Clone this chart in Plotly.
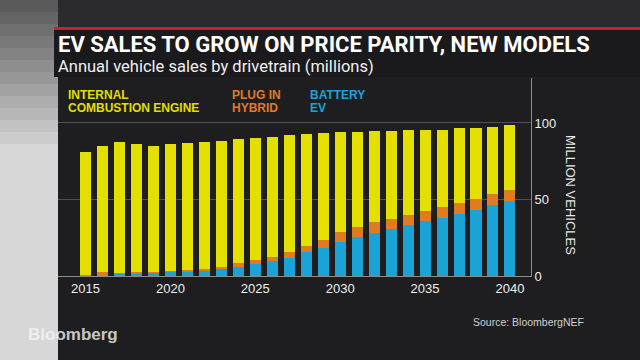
import plotly.graph_objects as go

years = list(range(2015, 2041))
ice = [80.3, 82.6, 85.4, 83.4, 81.9, 82.7, 82.7, 83.4, 82.4, 81.0, 79.7, 78.0, 76.4,
       73.2, 69.9, 65.4, 61.9, 59.5, 57.3, 55.1, 52.9, 50.7, 48.8, 46.8, 44.2, 42.5]
phev = [0.2, 2.3, 0.3, 1.1, 0.5, 0.5, 0.9, 0.9, 1.7, 2.6, 2.6, 3.1, 3.9,
        3.7, 5.3, 6.2, 6.7, 7.2, 7.0, 7.0, 6.8, 7.2, 7.0, 6.8, 7.2, 7.2]
bev = [0.3, 0.3, 1.7, 1.8, 2.4, 2.9, 3.1, 3.5, 4.4, 5.7, 7.9, 9.5, 11.6,
       15.7, 18.3, 22.3, 25.3, 27.9, 30.5, 33.1, 35.9, 37.7, 40.7, 43.3, 46.2, 49.0]
x_ticks = [2015, 2020, 2025, 2030, 2035, 2040]
y_ticks = [0, 50, 100]

YELLOW = "#e3e000"
ORANGE = "#e07b22"
BLUE = "#19a3d6"
BG = "#1e1e20"

W, H = 640, 360
L, R, T, B = 58, 531, 78, 276


def px(x):
    return (x - L) / (R - L)


def py(y):
    return (B - y) / (B - T)


fig = go.Figure()
for name, vals, col in [("Battery EV", bev, BLUE), ("Plug in hybrid", phev, ORANGE),
                        ("Internal combustion engine", ice, YELLOW)]:
    fig.add_trace(go.Bar(x=years, y=vals, name=name, marker=dict(color=col, line=dict(width=0))))

shapes = []
# left light strip (vertical gradient approximated by bands)
n = 30
for i in range(n):
    y0 = H * i / n
    y1 = H * (i + 1) / n
    t = min(1.0, (i + 0.5) / n * 2.4)
    c0, c1 = 85, 215
    v = int(c0 + (c1 - c0) * t)
    shapes.append(dict(type="rect", xref="paper", yref="paper", x0=px(0), x1=px(L),
                       y0=py(y1), y1=py(y0), fillcolor=f"rgb({v},{v},{v})",
                       line=dict(width=0), layer="below"))
# top dark region
shapes.append(dict(type="rect", xref="paper", yref="paper", x0=px(L), x1=px(W),
                   y0=py(27), y1=py(0), fillcolor="#2b2b2d", line=dict(width=0), layer="below"))
# red rule
shapes.append(dict(type="rect", xref="paper", yref="paper", x0=px(54), x1=px(W),
                   y0=py(30), y1=py(27), fillcolor="#c9202b", line=dict(width=0), layer="below"))
# title band
shapes.append(dict(type="rect", xref="paper", yref="paper", x0=px(54), x1=px(W),
                   y0=py(77), y1=py(30), fillcolor="#1a1a1c", line=dict(width=0), layer="below"))

ann = []
FONT = "Roboto, Liberation Sans, Arial, sans-serif"
ann.append(dict(text="<b>EV SALES TO GROW ON PRICE PARITY, NEW MODELS</b>", x=px(57), y=py(44),
                xref="paper", yref="paper", xanchor="left", yanchor="middle", showarrow=False,
                borderpad=0, font=dict(family=FONT, size=22, color="white")))
ann.append(dict(text="Annual vehicle sales by drivetrain (millions)", x=px(57), y=py(66.5),
                xref="paper", yref="paper", xanchor="left", yanchor="middle", showarrow=False,
                borderpad=0, font=dict(family=FONT, size=16.5, color="#f0f0f0")))
legend_items = [
    ("INTERNAL", "COMBUSTION ENGINE", 67, "#e2df00"),
    ("PLUG IN", "HYBRID", 231, "#e07a2a"),
    ("BATTERY", "EV", 309, "#1ba2da"),
]
for l1, l2, xx, col in legend_items:
    for txt, yy in [(l1, 94.5), (l2, 107.5)]:
        ann.append(dict(text=f"<b>{txt}</b>", x=px(xx), y=py(yy), xref="paper", yref="paper",
                        xanchor="left", yanchor="middle", showarrow=False, borderpad=0,
                        font=dict(family="Liberation Sans, Arial, sans-serif", size=12, color=col)))
ann.append(dict(text="MILLION VEHICLES", x=px(571), y=py(195), xref="paper", yref="paper",
                xanchor="center", yanchor="middle", textangle=90, showarrow=False,
                font=dict(family="Liberation Sans Narrow, Arial Narrow, Liberation Sans, Arial", size=13,
                          color="#e8e8e8")))
ann.append(dict(text="Source: BloombergNEF", x=px(471), y=py(322), xref="paper", yref="paper",
                xanchor="left", yanchor="middle", showarrow=False,
                font=dict(family="Liberation Sans, Arial", size=10.5, color="#d0d0d0")))
ann.append(dict(text="<b>Bloomberg</b>", x=px(26), y=py(334), xref="paper", yref="paper",
                xanchor="left", yanchor="middle", showarrow=False,
                font=dict(family="Liberation Sans, Arial", size=17, color="rgba(245,245,245,0.8)")))

fig.update_layout(
    width=W, height=H,
    margin=dict(l=L, r=W - R, t=T, b=H - B, pad=0),
    paper_bgcolor=BG, plot_bgcolor=BG,
    barmode="stack", bargap=0.35, showlegend=False,
    shapes=shapes, annotations=ann,
    xaxis=dict(range=[2013.38, 2041.24], tickvals=x_ticks, ticks="", showgrid=False,
               showline=True, linecolor="#8c8c8c", linewidth=1, zeroline=False,
               tickfont=dict(family="Liberation Sans, Arial", size=13, color="#eeeeee")),
    yaxis=dict(range=[0, 129.4], tickvals=y_ticks, side="right", ticks="", showgrid=True,
               gridcolor="#505052", gridwidth=1, zeroline=False, showline=True,
               linecolor="#8c8c8c", linewidth=1,
               tickfont=dict(family="Liberation Sans, Arial", size=13, color="#eeeeee")),
)

fig.write_html("out.html", config={"displayModeBar": False},
               post_script="document.body.style.margin='0';document.body.style.overflow='hidden';")
